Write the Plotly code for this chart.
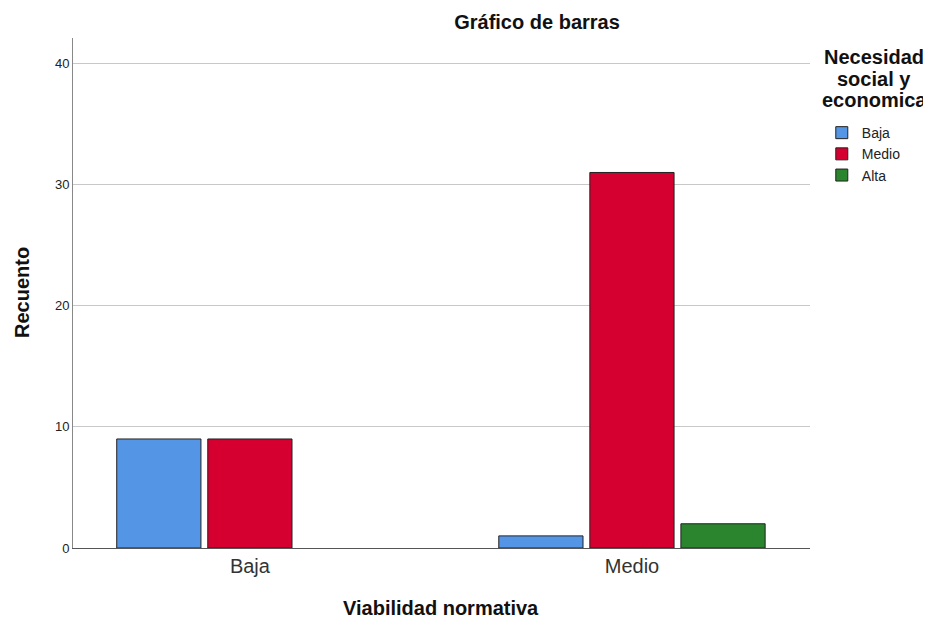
import plotly.graph_objects as go

# Datos
categorias = ['Baja', 'Medio']
niveles = ['Baja', 'Medio', 'Alta']
recuento_baja = [9, 1]
recuento_medio = [9, 31]
recuento_alta = [None, 2]
colores = ['#5595E5', '#D60030', '#2A852E']
titulo_leyenda = ['Necesidad', 'social y', 'economica']

fuente = 'Liberation Sans, Arial, sans-serif'

# la pagina deja 8px de margen en el body, se compensa en el tamaño
W, H = 923, 613
L, R, T, B = 65, 121, 30, 73
alto_plot = H - T - B
ancho_plot = W - L - R


def px(x, y):
    # pixeles de la figura -> coordenadas paper
    return (x - L) / ancho_plot, (H - B - y) / alto_plot


fig = go.Figure()
for nombre, valores, color in zip(niveles, [recuento_baja, recuento_medio, recuento_alta], colores):
    fig.add_trace(go.Bar(x=categorias, y=valores, name=nombre,
                         marker=dict(color=color, line=dict(color='#222222', width=1))))

anotaciones = []
# titulo de la leyenda en tres lineas centradas
for i, linea in enumerate(titulo_leyenda):
    x, y = px(866, 49 + 21.5 * i)
    anotaciones.append(dict(text='<b>' + linea + '</b>', xref='paper', yref='paper',
                            x=x, y=y, xanchor='center', yanchor='middle', showarrow=False,
                            font=dict(size=20, color='#111111')))

# titulos de los ejes
x, y = px(14, 285)
anotaciones.append(dict(text='<b>Recuento</b>', xref='paper', yref='paper', x=x, y=y,
                        xanchor='center', yanchor='middle', textangle=-90, showarrow=False,
                        font=dict(size=20, color='#111111')))
x, y = px(433, 600)
anotaciones.append(dict(text='<b>Viabilidad normativa</b>', xref='paper', yref='paper', x=x, y=y,
                        xanchor='center', yanchor='middle', showarrow=False,
                        font=dict(size=20, color='#111111')))

fig.update_layout(
    width=W, height=H,
    paper_bgcolor='white', plot_bgcolor='white',
    margin=dict(l=L, r=R, t=T, b=B, autoexpand=False),
    barmode='group', bargap=0.285, bargroupgap=0.075,
    font=dict(family=fuente, color='#222222'),
    title=dict(text='<b>Gráfico de barras</b>', x=529 / W, xanchor='center',
               y=1 - 14 / H, yanchor='middle', font=dict(size=20, color='#111111')),
    showlegend=True,
    legend=dict(x=1.016, y=0.845, xanchor='left', yanchor='top',
                font=dict(size=14, color='#222222'), itemwidth=30,
                bgcolor='rgba(0,0,0,0)'),
    annotations=anotaciones,
)

fig.update_xaxes(
    range=[-0.463, 1.466], showline=True, linecolor='#555555', linewidth=1,
    ticks='', tickfont=dict(size=20, color='#333333'),
    showgrid=False, zeroline=False,
)
fig.update_yaxes(
    range=[0, 42.1], tickvals=[0, 10, 20, 30, 40], showline=True, linecolor='#888888', linewidth=1,
    ticks='', tickfont=dict(size=13, color='#222222'),
    showgrid=True, gridcolor='#c8c8c8', gridwidth=1, zeroline=False,
)

fig.write_html('out.html')
